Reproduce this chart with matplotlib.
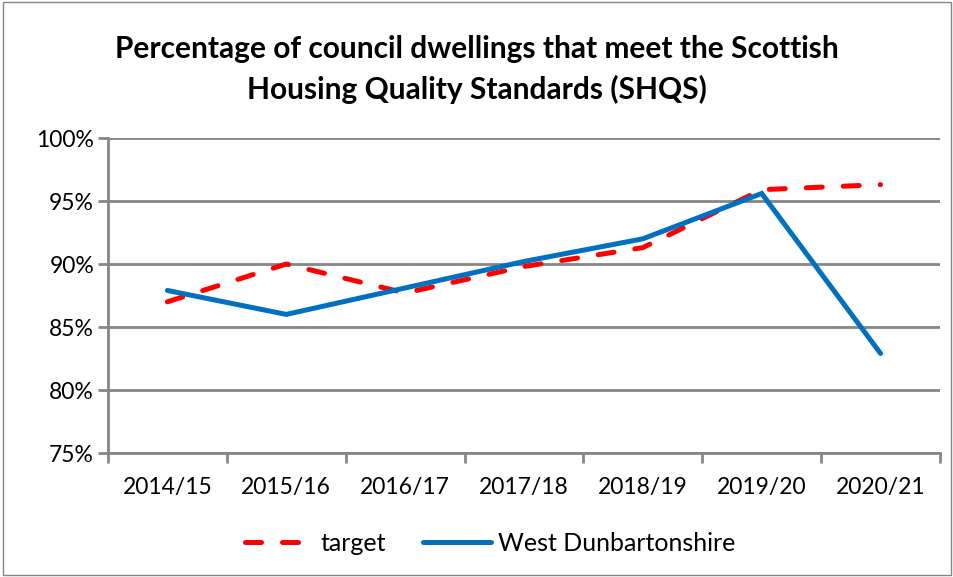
import matplotlib.pyplot as plt
from matplotlib.patches import Rectangle
from matplotlib.ticker import FuncFormatter, FixedLocator

# --- Data ---
years = ["2014/15", "2015/16", "2016/17", "2017/18", "2018/19", "2019/20", "2020/21"]
target = [87.0, 90.0, 87.7, 89.8, 91.3, 95.9, 96.3]
west_dunbartonshire = [87.9, 86.0, 88.1, 90.2, 92.0, 95.6, 82.9]

plt.rcParams['font.family'] = ['Lato', 'DejaVu Sans']
grey = "#868686"

fig = plt.figure(figsize=(9.54, 5.77), dpi=100)
ax = fig.add_axes([0.1132, 0.2149, 0.8721, 0.5459])

x = list(range(len(years)))
ax.plot(x, target, color="#FF0000", lw=3.6, linestyle=(0, (3.2, 4.2)),
        dash_capstyle="round", solid_capstyle="round", label="target", zorder=3)
ax.plot(x, west_dunbartonshire, color="#0070C0", lw=3.6,
        solid_capstyle="round", solid_joinstyle="miter", label="West Dunbartonshire", zorder=4)

ax.set_xlim(-0.5, len(years) - 0.5)
ax.set_ylim(75, 100)
ax.set_yticks([75, 80, 85, 90, 95, 100])
ax.yaxis.set_major_formatter(FuncFormatter(lambda v, p: f"{v:.0f}%"))
ax.yaxis.grid(True, color=grey, lw=2)
ax.set_axisbelow(True)

# category labels centred, tick marks between categories
ax.set_xticks(x)
ax.set_xticklabels(years)
ax.xaxis.set_minor_locator(FixedLocator([i - 0.5 for i in range(len(years) + 1)]))
ax.tick_params(axis="x", which="major", length=0, pad=17, labelsize=16.5)
ax.tick_params(axis="x", which="minor", length=7, width=2, color=grey)
ax.tick_params(axis="y", length=7, width=2, color=grey, labelsize=16.5, pad=3)

for s in ["top", "right"]:
    ax.spines[s].set_visible(False)
for s in ["left", "bottom"]:
    ax.spines[s].set_color(grey)
    ax.spines[s].set_linewidth(2)

fig.text(0.5, 0.915, "Percentage of council dwellings that meet the Scottish",
         ha="center", va="center", fontsize=21.5, fontweight="bold")
fig.text(0.5, 0.845, "Housing Quality Standards (SHQS)",
         ha="center", va="center", fontsize=21.5, fontweight="bold")

leg = fig.legend(handles=ax.get_lines(), loc="center", bbox_to_anchor=(0.514, 0.058), ncol=2,
                 frameon=False, fontsize=18, handlelength=2.7, columnspacing=1.5,
                 handletextpad=0.3)

# outer chart border
fig.patches.append(Rectangle((0.003, 0.003), 0.994, 0.994, transform=fig.transFigure,
                             fill=False, edgecolor=grey, lw=1))

fig.savefig("out.png", dpi=100)
